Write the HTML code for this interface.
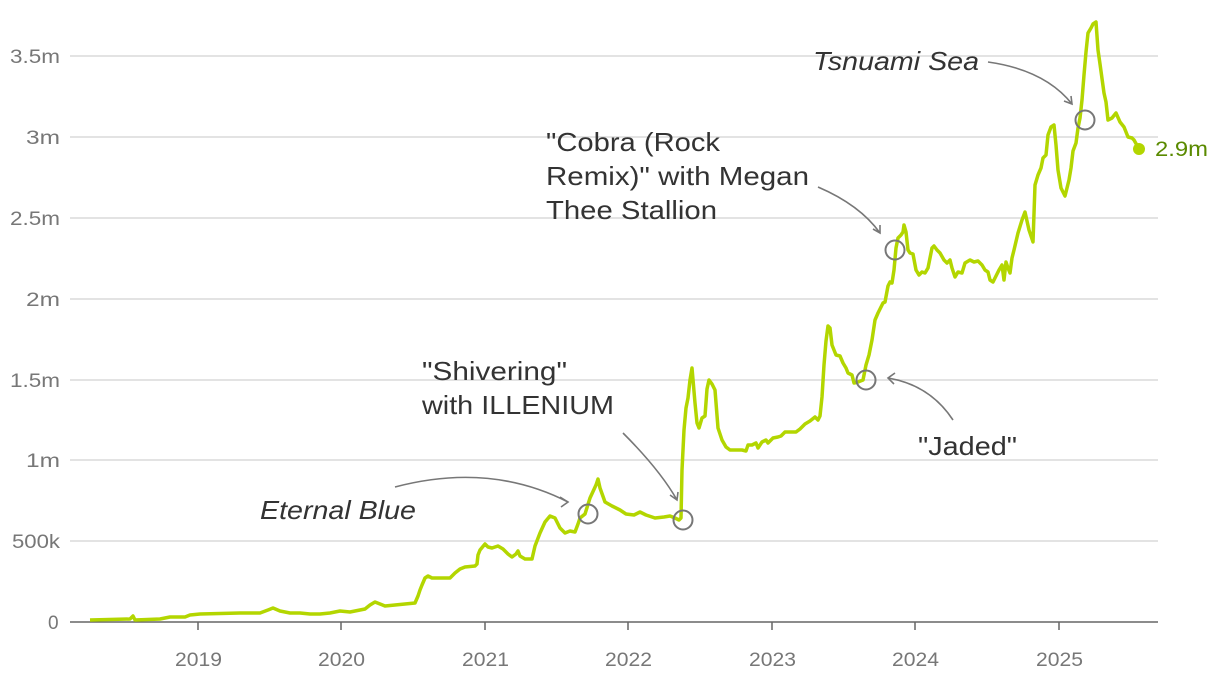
<!DOCTYPE html>
<html><head><meta charset="utf-8"><style>
body{margin:0;background:#fff}
svg{display:block;font-family:"Liberation Sans",sans-serif}
.t{font-size:19px;fill:#777}
.a{font-size:26px;fill:#333}
</style></head><body>
<svg width="1220" height="684" viewBox="0 0 1220 684">
<g stroke="#e3e3e3" stroke-width="2">
<line x1="70" x2="1158" y1="56" y2="56"/><line x1="70" x2="1158" y1="137" y2="137"/>
<line x1="70" x2="1158" y1="218" y2="218"/><line x1="70" x2="1158" y1="299" y2="299"/>
<line x1="70" x2="1158" y1="380" y2="380"/><line x1="70" x2="1158" y1="460" y2="460"/>
<line x1="70" x2="1158" y1="541" y2="541"/>
</g>
<line x1="70" x2="1158" y1="622" y2="622" stroke="#666" stroke-width="1.5"/>
<g stroke="#666" stroke-width="1.5">
<line x1="198" x2="198" y1="622" y2="630"/><line x1="341" x2="341" y1="622" y2="630"/>
<line x1="485" x2="485" y1="622" y2="630"/><line x1="628" x2="628" y1="622" y2="630"/>
<line x1="772" x2="772" y1="622" y2="630"/><line x1="915" x2="915" y1="622" y2="630"/>
<line x1="1059" x2="1059" y1="622" y2="630"/>
</g>
<g class="t">
<text x="10" y="63" textLength="50" lengthAdjust="spacingAndGlyphs">3.5m</text><text x="26" y="144" textLength="34" lengthAdjust="spacingAndGlyphs">3m</text><text x="10" y="225" textLength="50" lengthAdjust="spacingAndGlyphs">2.5m</text>
<text x="26" y="306" textLength="34" lengthAdjust="spacingAndGlyphs">2m</text><text x="10" y="387" textLength="50" lengthAdjust="spacingAndGlyphs">1.5m</text><text x="26" y="467" textLength="34" lengthAdjust="spacingAndGlyphs">1m</text>
<text x="12" y="548" textLength="48" lengthAdjust="spacingAndGlyphs">500k</text><text x="48" y="629">0</text>
</g>
<g class="t">
<text x="175" y="666" textLength="47" lengthAdjust="spacingAndGlyphs">2019</text><text x="318" y="666" textLength="47" lengthAdjust="spacingAndGlyphs">2020</text><text x="462" y="666" textLength="47" lengthAdjust="spacingAndGlyphs">2021</text>
<text x="605" y="666" textLength="47" lengthAdjust="spacingAndGlyphs">2022</text><text x="749" y="666" textLength="47" lengthAdjust="spacingAndGlyphs">2023</text><text x="892" y="666" textLength="47" lengthAdjust="spacingAndGlyphs">2024</text>
<text x="1036" y="666" textLength="47" lengthAdjust="spacingAndGlyphs">2025</text>
</g>
<polyline fill="none" stroke="#b3d600" stroke-width="3.5" stroke-linejoin="round" points="90,620 130,619 133,616 135,620 160,619 170,617 185,617 190,615 200,614 240,613 260,613 268,610 273,608 280,611 290,613 300,613 310,614 320,614 330,613 340,611 350,612 360,610 365,609 370,605 375,602 380,604 385,606 395,605 405,604 415,603 418,596 420,590 422,585 425,578 428,576 432,578 440,578 450,578 455,573 460,569 465,567 475,566 477,564 478,555 480,550 485,544 488,547 492,548 498,546 503,549 508,554 512,557 516,554 518,551 520,556 525,559 532,559 535,546 540,533 545,522 550,516 555,518 560,528 565,533 570,531 575,532 578,524 580,518 585,514 590,498 596,485 598,479 600,488 605,502 612,506 620,510 626,514 634,515 640,512 646,515 655,518 664,517 670,516 675,518 679,520 681,518 682,470 684,430 686,408 688,398 690,380 692,368 695,403 697,423 699,428 702,418 705,416 707,389 709,380 712,384 715,390 718,428 722,440 726,447 730,450 736,450 742,450 746,451 748,445 752,445 756,443 758,448 762,442 766,440 768,443 773,438 778,437 781,436 785,432 790,432 796,432 800,429 805,424 810,421 815,417 818,420 820,416 822,397 824,365 826,341 828,326 830,328 832,345 836,355 840,356 843,363 846,368 848,373 852,375 854,383 858,382 863,380 866,365 869,355 872,340 875,320 878,313 881,307 883,303 885,302 888,286 890,282 892,283 894,270 896,248 898,238 901,235 903,232 904,225 906,232 908,250 910,253 913,254 916,270 919,275 922,272 925,273 928,268 930,258 932,248 934,246 937,250 940,253 944,260 947,263 950,260 952,268 955,277 958,272 962,273 965,263 970,260 974,262 978,261 982,265 985,270 988,272 990,280 993,282 996,276 999,270 1002,265 1004,280 1006,262 1008,268 1010,273 1012,258 1014,250 1018,233 1022,220 1025,212 1029,230 1033,242 1035,185 1038,175 1041,168 1043,158 1046,155 1048,135 1051,127 1054,125 1056,145 1058,170 1061,188 1065,196 1067,188 1069,180 1071,168 1073,151 1076,143 1078,128 1080,118 1082,100 1084,75 1086,52 1088,33 1091,28 1093,24 1096,22 1098,50 1100,64 1104,93 1106,102 1108,120 1112,118 1116,113 1120,122 1124,127 1128,137 1132,138 1134,140 1139,149"/>
<circle cx="1139" cy="149" r="6" fill="#b3d600"/>
<text x="1155" y="156" font-size="21" fill="#5a8a00" textLength="53" lengthAdjust="spacingAndGlyphs">2.9m</text>
<g fill="none" stroke="#777" stroke-width="2">
<circle cx="588" cy="514" r="9.5"/><circle cx="683" cy="520" r="9.5"/>
<circle cx="866" cy="380" r="9.5"/><circle cx="895" cy="250" r="9.5"/>
<circle cx="1085" cy="120" r="9.5"/>
</g>
<g fill="none" stroke="#777" stroke-width="1.6">
<path d="M395,487 Q490,462 568,502"/><path d="M560,497 L568,502 L561,507"/>
<path d="M623,433 Q660,470 677,500"/><path d="M670,495 L677,500 L678,492"/>
<path d="M818,187 Q860,205 880,233"/><path d="M873,229 L880,233 L880,225"/>
<path d="M953,420 Q930,385 888,378"/><path d="M895,373 L888,378 L894,384"/>
<path d="M988,62 Q1045,70 1072,104"/><path d="M1064,101 L1072,104 L1071,96"/>
</g>
<g class="a">
<text x="260" y="519" font-style="italic" textLength="156" lengthAdjust="spacingAndGlyphs">Eternal Blue</text>
<text x="422" y="380" textLength="145" lengthAdjust="spacingAndGlyphs">"Shivering"</text><text x="422" y="414" textLength="192" lengthAdjust="spacingAndGlyphs">with ILLENIUM</text>
<text x="546" y="151" textLength="174" lengthAdjust="spacingAndGlyphs">"Cobra (Rock</text><text x="546" y="185" textLength="263" lengthAdjust="spacingAndGlyphs">Remix)" with Megan</text><text x="546" y="219" textLength="171" lengthAdjust="spacingAndGlyphs">Thee Stallion</text>
<text x="918" y="455" textLength="99" lengthAdjust="spacingAndGlyphs">"Jaded"</text>
<text x="813" y="70" font-style="italic" textLength="166" lengthAdjust="spacingAndGlyphs">Tsnuami Sea</text>
</g>
</svg>
</body></html>
